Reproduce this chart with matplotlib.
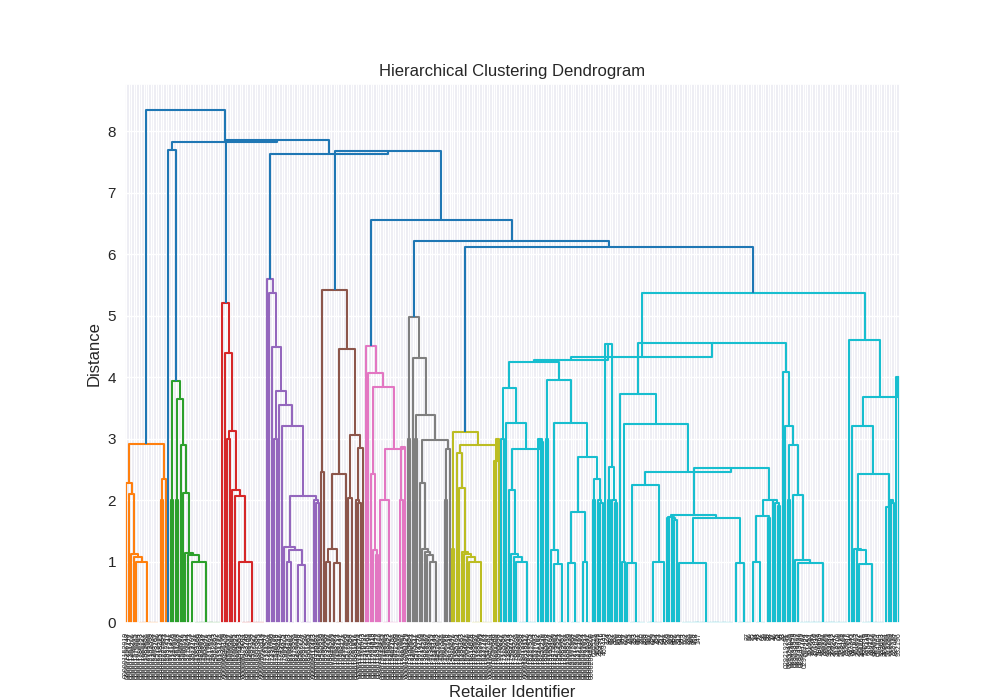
import matplotlib
matplotlib.use("Agg")
import matplotlib.pyplot as plt
from matplotlib.collections import LineCollection
import seaborn as sns

sns.set_theme(style="darkgrid")
plt.rcParams['font.family'] = ['Liberation Sans', 'DejaVu Sans']

# Subtrees are written as [height, left, right]; an int n means n leaves
# joined at distance 0 (n = 1 is a single leaf).
ORANGE = [2.91,
          [2.28, 1, [2.10, 1, [1.13, 1, [1.08, 1, [1.0, 1, 9]]]]],
          [2.35, [2.0, 1, 1], 1]]

GREEN = [3.94, [2.0, 1, 1],
         [3.65, [2.0, 1, 1],
          [2.9, 1, [2.12, 1, [1.14, 1, [1.1, 1, [1.0, 2, 11]]]]]]]

RED = [5.2, 1, [4.4, 1, [3.13, [3.0, 1, 1],
                         [2.16, 1, [2.07, 1, [1.0, 2, 10]]]]]]

PURPLE = [5.6, 1, [5.37, 1, [4.49, 1, [3.78, [3.0, 1, 1],
          [3.54, 1, [3.21, 1,
           [2.07, [1.24, 1, [1.18, [1.0, 1, 3], [0.95, 2, 5]]],
            [2.0, 1, [1.95, 1, 1]]]]]]]]]

BROWN = [5.42, [2.45, 1, 1],
         [4.46, [2.43, [1.21, [1.0, 1, 2], [0.98, 1, 4]], 1],
          [3.06, [2.04, 1, 2], [2.84, [2.0, 1, [1.95, 1, 1]], 1]]]]

PINK = [4.51, 1, [4.06, 1, [3.84, [2.43, 1, [1.18, 1, [1.1, 1, 1]]],
                           [2.83, [2.0, 1, 7], [2.86, [2.0, 1, 1], 1]]]]]

GRAY = [4.97, [3.0, 1, 1],
        [4.31, 1, [3.39, [3.0, 1, 1],
         [2.98, [2.27, 1, [1.2, 1, [1.15, 1, [1.1, 1, [1.0, 1, 5]]]]],
          [2.83, [2.0, 1, 1], 1]]]]]

OLIVE = [3.1, [1.2, 1, 1],
         [2.9, [2.77, 1, [2.2, 1, [1.15, 1, [1.12, 1, [1.08, 1, [1.0, 1, 9]]]]]],
          [2.64, 1, [3.0, 1, 1]]]]

CYAN_P1 = [3.83, [3.0, 1, 1],
           [3.25, 1, [2.83, [2.16, 1, [1.13, 1, [1.07, 1, [1.0, 1, 8]]]],
                      [3.0, 1, [2.95, 1, 1]]]]]
CYAN_P2 = [3.95, [3.0, 1, 1],
           [3.25, [1.18, 1, [0.96, 2, 4]],
            [2.7, [1.81, [0.98, 1, 5], [1.0, 1, 3]],
             [2.34, [2.0, 1, 1], [2.0, 1, [1.95, 1, 1]]]]]]
CYAN_Q2 = [4.54, 1, [2.53, [2.0, 1, 1], [2.0, 1, [1.95, 1, 1]]]]
CYAN_T = [3.72, 1,
          [3.23, [1.0, 1, 1],
           [2.45, [2.25, [0.98, 1, 7], [1.0, 7, 1]],
            [2.52, [1.75, [1.72, [1.7, 1, 1], [1.7, 1, [1.68, 1, 1]]],
                    [1.7, [0.98, 1, 22], [0.98, 1, 6]]],
             [2.0, [1.74, [1.0, 1, 5], [1.7, 1, 1]],
              [2.0, 1, [1.95, 1, [1.9, 1, 1]]]]]]]]
CYAN_U = [4.08, 1, [3.2, 1, [2.9, [2.0, 1, 1], [2.08, 1, [1.02, 1, [0.98, 1, 20]]]]]]
CYAN_R = [4.6, 1, [3.67, [3.2, 1, [2.42, [1.2, 1, [1.18, 1, [0.96, 1, 10]]],
                                    [1.88, 1, [2.0, 1, [1.95, 1, 1]]]]],
                   [4.0, 1, 1]]]
CYAN = [5.37, [4.33, [4.27, [4.24, CYAN_P1, CYAN_P2], CYAN_Q2],
               [4.56, CYAN_T, CYAN_U]],
        CYAN_R]

CLUSTERS = {'orange': ORANGE, 'green': GREEN, 'red': RED, 'purple': PURPLE,
            'brown': BROWN, 'pink': PINK, 'gray': GRAY, 'olive': OLIVE,
            'cyan': CYAN}
COLORS = {'orange': '#ff7f0e', 'green': '#2ca02c', 'red': '#d62728',
          'purple': '#9467bd', 'brown': '#8c564b', 'pink': '#e377c2',
          'gray': '#7f7f7f', 'olive': '#bcbd22', 'cyan': '#17becf'}
LINK_COLOR = '#1f77b4'

# links above the colour threshold
TOP = [8.35, 'orange',
       [7.82, [7.69, 1, 'green'],
        [7.85, 'red',
         [7.63, 'purple',
          [7.67, 'brown',
           [6.55, 'pink',
            [6.22, 'gray',
             [6.12, 'olive', 'cyan']]]]]]]]

# identifier length of the leaf labels, run by run (0 = no identifier)
LABEL_RUNS = [(190, 12), (5, 6), (38, 3), (19, 0), (16, 2), (8, 9), (43, 6)]

segments = []
seg_colors = []
next_leaf = [0]


def add_u(a, b, h, color):
    (xa, ha), (xb, hb) = a, b
    segments.append([(xa, ha), (xa, h), (xb, h), (xb, hb)])
    seg_colors.append(color)


def zero_group(n, color):
    if n == 1:
        x = next_leaf[0]
        next_leaf[0] += 1
        return x, 0.0
    a = zero_group(n // 2, color)
    b = zero_group(n - n // 2, color)
    add_u(a, b, 0.0, color)
    return (a[0] + b[0]) / 2, 0.0


def layout(node, color):
    if isinstance(node, str):
        return layout(CLUSTERS[node], COLORS[node])
    if isinstance(node, int):
        return zero_group(node, color)
    h, left, right = node
    a = layout(left, color)
    b = layout(right, color)
    add_u(a, b, h, color)
    return (a[0] + b[0]) / 2, h


layout(TOP, LINK_COLOR)
n_leaves = next_leaf[0]

labels = []
for count, length in LABEL_RUNS:
    for _ in range(count):
        ident = str(104729 * (len(labels) + 11))
        labels.append(ident.rjust(length, '0')[-length:] if length else '')
labels = (labels + [''] * n_leaves)[:n_leaves]

fig, ax = plt.subplots(figsize=(10, 7))
ax.add_collection(LineCollection(segments, colors=seg_colors, linewidths=1.5))
ax.set_xlim(-0.5, n_leaves - 0.5)
ax.set_ylim(0, TOP[0] * 1.05)
ax.set_xticks(range(n_leaves))
ax.set_xticklabels(labels, rotation=90, fontsize=5)
ax.tick_params(axis='both', pad=plt.rcParams['xtick.major.pad'] - 3)
ax.set_title('Hierarchical Clustering Dendrogram')
ax.set_xlabel('Retailer Identifier')
ax.set_ylabel('Distance')

fig.savefig('out.png', dpi=100)
